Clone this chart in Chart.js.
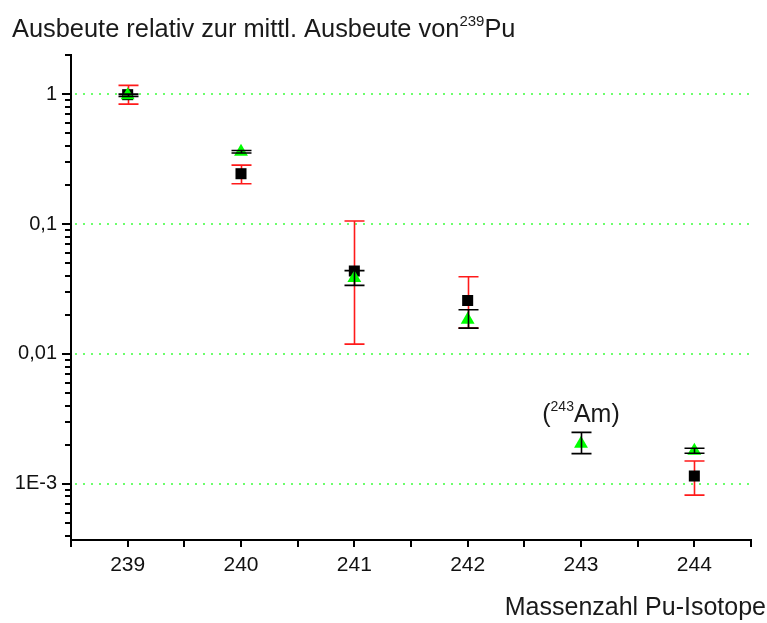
<!DOCTYPE html>
<html>
<head>
<meta charset="utf-8">
<script src="https://cdn.jsdelivr.net/npm/chart.js@4.4.1/dist/chart.umd.min.js"></script>
<style>
  body { margin: 0; background: #fff; }
  #wrap { width: 767px; height: 623px; }
</style>
</head>
<body>
<div id="wrap"><canvas id="my-chart" width="767" height="623"></canvas></div>
<script>
// Mass numbers of the Pu isotopes
const isotopes = [239, 240, 241, 242, 243, 244]

// black squares, red error bars (null = not measured)
const puYield = [0.99, 0.244, 0.0435, 0.0258, null, 0.00115]
const puLow = [0.837, 0.204, 0.0119, 0.0158, null, 0.00082]
const puHigh = [1.167, 0.284, 0.1055, 0.0393, null, 0.0015]

// green triangles, black error bars (243 is the 243Am tracer)
const triYield = [0.98, 0.36, 0.0384, 0.0183, 0.00204, 0.0018]
const triLow = [0.96, 0.352, 0.0337, 0.0158, 0.00171, 0.00172]
const triHigh = [1.0, 0.368, 0.0438, 0.0219, 0.00249, 0.00188]

const xTickValues = [238.5, 239, 239.5, 240, 240.5, 241, 241.5, 242, 242.5, 243, 243.5, 244, 244.5]
const yMajor = [1, 0.1, 0.01, 0.001]
const yMajorLabels = ['1', '0,1', '0,01', '1E-3']
const yDecades = [0.0001, 0.001, 0.01, 0.1, 1]

const yMin = 0.00037
const yMax = 2

const FONT = "'Liberation Sans', Arial, sans-serif"
Chart.defaults.font.family = FONT
Chart.defaults.color = '#111'

// dotted green lines at the decades
const decadeGrid = {
    id: 'decadeGrid',
    beforeDatasetsDraw(chart) {
        const {ctx, chartArea, scales: {y}} = chart
        ctx.save()
        ctx.strokeStyle = '#3dff3d'
        ctx.lineWidth = 1.6
        ctx.setLineDash([2, 6])
        yMajor.forEach(v => {
            const py = Math.round(y.getPixelForValue(v))
            ctx.beginPath()
            ctx.moveTo(chartArea.left + 4, py)
            ctx.lineTo(chartArea.right, py)
            ctx.stroke()
        })
        ctx.restore()
    }
}

function drawBars(chart, lows, highs, color) {
    const {ctx, scales: {x, y}} = chart
    ctx.save()
    ctx.strokeStyle = color
    ctx.lineWidth = 1.6
    isotopes.forEach((m, i) => {
        if (lows[i] == null) return
        const px = Math.round(x.getPixelForValue(m)) + 0.5
        const top = y.getPixelForValue(highs[i])
        const bot = y.getPixelForValue(lows[i])
        ctx.beginPath()
        ctx.moveTo(px, top); ctx.lineTo(px, bot)
        ctx.moveTo(px - 10, top); ctx.lineTo(px + 10, top)
        ctx.moveTo(px - 10, bot); ctx.lineTo(px + 10, bot)
        ctx.stroke()
    })
    ctx.restore()
}

const errorBars = {
    id: 'errorBars',
    beforeDatasetsDraw(chart) {
        drawBars(chart, puLow, puHigh, '#ff1a1a')
    },
    afterDatasetsDraw(chart) {
        drawBars(chart, triLow, triHigh, '#000')
    }
}

// tick marks: long at decades, short between
const axisTicks = {
    id: 'axisTicks',
    afterDraw(chart) {
        const {ctx, scales: {x, y}} = chart
        ctx.save()
        ctx.strokeStyle = '#000'
        ctx.lineWidth = 2
        ctx.beginPath()
        y.ticks.forEach(t => {
            const py = Math.round(y.getPixelForValue(t.value))
            const len = yMajor.includes(t.value) ? 9 : 6
            ctx.moveTo(y.right - len, py)
            ctx.lineTo(y.right, py)
        })
        x.ticks.forEach(t => {
            const px = Math.round(x.getPixelForValue(t.value))
            ctx.moveTo(px, x.top)
            ctx.lineTo(px, x.top + 7)
        })
        ctx.stroke()
        ctx.restore()
    }
}

function supText(ctx, parts, x, y) {
    // parts: [text, size, raise]
    parts.forEach(p => {
        ctx.font = p[1] + 'px ' + FONT
        ctx.fillText(p[0], x, y - p[2])
        x += ctx.measureText(p[0]).width
    })
    return x
}

const texts = {
    id: 'texts',
    afterDraw(chart) {
        const {ctx, scales: {x, y}} = chart
        ctx.save()
        ctx.fillStyle = '#1a1a1a'
        ctx.textBaseline = 'alphabetic'
        ctx.textAlign = 'left'
        supText(ctx, [['Ausbeute relativ zur mittl. Ausbeute von', 25.4, 0], ['239', 15, 11], ['Pu', 25.4, 0]], 12, 37)

        // annotation for the tracer point
        const parts = [['(', 25, 0], ['243', 14, 11], ['Am)', 25, 0]]
        let w = 0
        parts.forEach(p => { ctx.font = p[1] + 'px ' + FONT; w += ctx.measureText(p[0]).width })
        supText(ctx, parts, x.getPixelForValue(243) - w / 2, y.getPixelForValue(0.003))

        ctx.font = '25px ' + FONT
        ctx.textAlign = 'right'
        ctx.fillText('Massenzahl Pu-Isotope', 766, 615)
        ctx.restore()
    }
}

const chartCanva = document.getElementById('my-chart')

const myChart = new Chart(chartCanva, {
    type: 'scatter',
    data: {
        datasets: [{
            label: 'Pu',
            data: isotopes.map((m, i) => ({x: m, y: puYield[i]})),
            pointStyle: 'rect',
            pointRadius: 7.8,
            backgroundColor: '#000',
            borderColor: '#000',
            borderWidth: 0,
            order: 2
        }, {
            label: 'Tracer',
            data: isotopes.map((m, i) => ({x: m, y: triYield[i]})),
            pointStyle: 'triangle',
            pointRadius: 8,
            backgroundColor: '#00ff00',
            borderColor: '#00ff00',
            borderWidth: 0,
            order: 1
        }]
    },
    options: {
        responsive: false,
        animation: false,
        events: [],
        layout: {
            padding: {top: 55, right: 16, left: 0, bottom: 0}
        },
        plugins: {
            legend: {display: false},
            tooltip: {enabled: false}
        },
        scales: {
            x: {
                type: 'linear',
                min: 238.5,
                max: 244.5,
                afterBuildTicks: scale => {
                    scale.ticks = xTickValues.map(v => ({value: v}))
                },
                afterFit: scale => { scale.height = 83 },
                ticks: {
                    autoSkip: false,
                    maxRotation: 0,
                    padding: 13,
                    font: {size: 21},
                    color: '#111',
                    callback: v => Number.isInteger(v) ? String(v) : ''
                },
                grid: {display: false, drawTicks: false},
                border: {display: true, color: '#000', width: 2}
            },
            y: {
                type: 'logarithmic',
                min: yMin,
                max: yMax,
                afterBuildTicks: scale => {
                    const list = []
                    yDecades.forEach(d => {
                        for (let k = 1; k <= 9; k++) {
                            const v = k === 1 ? d : k * d
                            if (v >= yMin && v <= yMax) list.push({value: v})
                        }
                    })
                    scale.ticks = list
                },
                afterFit: scale => { scale.width = 71 },
                ticks: {
                    autoSkip: false,
                    padding: 14,
                    font: {size: 20},
                    color: '#111',
                    callback: v => {
                        const i = yMajor.indexOf(v)
                        return i >= 0 ? yMajorLabels[i] : ''
                    }
                },
                grid: {display: false, drawTicks: false},
                border: {display: true, color: '#000', width: 2}
            }
        }
    },
    plugins: [decadeGrid, errorBars, axisTicks, texts]
});
</script>
</body>
</html>
